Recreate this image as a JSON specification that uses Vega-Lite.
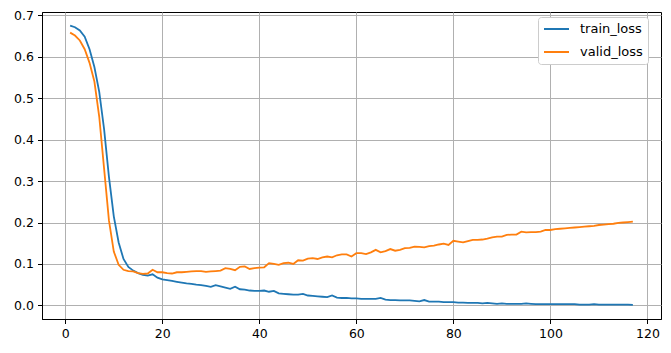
{
  "$schema": "https://vega.github.io/schema/vega-lite/v6.json",
  "autosize": "none",
  "width": 619,
  "height": 307,
  "padding": {"left": 42, "top": 12, "right": 10, "bottom": 34},
  "background": "white",
  "config": {
    "view": {"stroke": "black", "strokeWidth": 1},
    "font": "DejaVu Sans",
    "axis": {
      "labelFont": "DejaVu Sans",
      "labelFontSize": 12.5,
      "labelColor": "black",
      "domainColor": "black",
      "domainWidth": 1,
      "tickColor": "black",
      "tickSize": 4.5,
      "tickWidth": 1,
      "labelPadding": 4,
      "grid": true,
      "gridColor": "#b0b0b0",
      "gridWidth": 1,
      "title": null
    },
    "legend": {
      "labelFont": "DejaVu Sans",
      "labelFontSize": 13,
      "labelColor": "black"
    }
  },
  "data": {
    "values": [
      {"epoch":1,"train_loss":0.675,"valid_loss":0.658},
      {"epoch":2,"train_loss":0.671,"valid_loss":0.651},
      {"epoch":3,"train_loss":0.663,"valid_loss":0.639},
      {"epoch":4,"train_loss":0.648,"valid_loss":0.618},
      {"epoch":5,"train_loss":0.618,"valid_loss":0.585},
      {"epoch":6,"train_loss":0.575,"valid_loss":0.54},
      {"epoch":7,"train_loss":0.515,"valid_loss":0.455},
      {"epoch":8,"train_loss":0.425,"valid_loss":0.33},
      {"epoch":9,"train_loss":0.31,"valid_loss":0.205},
      {"epoch":10,"train_loss":0.215,"valid_loss":0.13},
      {"epoch":11,"train_loss":0.152,"valid_loss":0.098},
      {"epoch":12,"train_loss":0.112,"valid_loss":0.086},
      {"epoch":13,"train_loss":0.093,"valid_loss":0.083},
      {"epoch":14,"train_loss":0.084,"valid_loss":0.082},
      {"epoch":15,"train_loss":0.078,"valid_loss":0.078},
      {"epoch":16,"train_loss":0.074,"valid_loss":0.076},
      {"epoch":17,"train_loss":0.072,"valid_loss":0.077},
      {"epoch":18,"train_loss":0.075,"valid_loss":0.086},
      {"epoch":19,"train_loss":0.067,"valid_loss":0.080},
      {"epoch":20,"train_loss":0.063,"valid_loss":0.080},
      {"epoch":21,"train_loss":0.061,"valid_loss":0.078},
      {"epoch":22,"train_loss":0.059,"valid_loss":0.077},
      {"epoch":23,"train_loss":0.057,"valid_loss":0.080},
      {"epoch":24,"train_loss":0.055,"valid_loss":0.080},
      {"epoch":25,"train_loss":0.053,"valid_loss":0.081},
      {"epoch":26,"train_loss":0.052,"valid_loss":0.082},
      {"epoch":27,"train_loss":0.050,"valid_loss":0.083},
      {"epoch":28,"train_loss":0.049,"valid_loss":0.083},
      {"epoch":29,"train_loss":0.047,"valid_loss":0.081},
      {"epoch":30,"train_loss":0.045,"valid_loss":0.082},
      {"epoch":31,"train_loss":0.049,"valid_loss":0.083},
      {"epoch":32,"train_loss":0.046,"valid_loss":0.084},
      {"epoch":33,"train_loss":0.043,"valid_loss":0.090},
      {"epoch":34,"train_loss":0.040,"valid_loss":0.088},
      {"epoch":35,"train_loss":0.045,"valid_loss":0.085},
      {"epoch":36,"train_loss":0.039,"valid_loss":0.093},
      {"epoch":37,"train_loss":0.038,"valid_loss":0.094},
      {"epoch":38,"train_loss":0.036,"valid_loss":0.088},
      {"epoch":39,"train_loss":0.035,"valid_loss":0.090},
      {"epoch":40,"train_loss":0.035,"valid_loss":0.091},
      {"epoch":41,"train_loss":0.036,"valid_loss":0.092},
      {"epoch":42,"train_loss":0.033,"valid_loss":0.102},
      {"epoch":43,"train_loss":0.035,"valid_loss":0.100},
      {"epoch":44,"train_loss":0.029,"valid_loss":0.098},
      {"epoch":45,"train_loss":0.028,"valid_loss":0.102},
      {"epoch":46,"train_loss":0.027,"valid_loss":0.103},
      {"epoch":47,"train_loss":0.026,"valid_loss":0.100},
      {"epoch":48,"train_loss":0.026,"valid_loss":0.109},
      {"epoch":49,"train_loss":0.028,"valid_loss":0.108},
      {"epoch":50,"train_loss":0.024,"valid_loss":0.113},
      {"epoch":51,"train_loss":0.023,"valid_loss":0.114},
      {"epoch":52,"train_loss":0.022,"valid_loss":0.112},
      {"epoch":53,"train_loss":0.021,"valid_loss":0.116},
      {"epoch":54,"train_loss":0.020,"valid_loss":0.118},
      {"epoch":55,"train_loss":0.024,"valid_loss":0.116},
      {"epoch":56,"train_loss":0.019,"valid_loss":0.121},
      {"epoch":57,"train_loss":0.018,"valid_loss":0.123},
      {"epoch":58,"train_loss":0.018,"valid_loss":0.123},
      {"epoch":59,"train_loss":0.017,"valid_loss":0.118},
      {"epoch":60,"train_loss":0.017,"valid_loss":0.126},
      {"epoch":61,"train_loss":0.016,"valid_loss":0.126},
      {"epoch":62,"train_loss":0.016,"valid_loss":0.124},
      {"epoch":63,"train_loss":0.016,"valid_loss":0.128},
      {"epoch":64,"train_loss":0.016,"valid_loss":0.134},
      {"epoch":65,"train_loss":0.018,"valid_loss":0.128},
      {"epoch":66,"train_loss":0.014,"valid_loss":0.131},
      {"epoch":67,"train_loss":0.013,"valid_loss":0.136},
      {"epoch":68,"train_loss":0.013,"valid_loss":0.132},
      {"epoch":69,"train_loss":0.012,"valid_loss":0.134},
      {"epoch":70,"train_loss":0.012,"valid_loss":0.138},
      {"epoch":71,"train_loss":0.012,"valid_loss":0.139},
      {"epoch":72,"train_loss":0.011,"valid_loss":0.142},
      {"epoch":73,"train_loss":0.010,"valid_loss":0.141},
      {"epoch":74,"train_loss":0.013,"valid_loss":0.140},
      {"epoch":75,"train_loss":0.009,"valid_loss":0.143},
      {"epoch":76,"train_loss":0.009,"valid_loss":0.144},
      {"epoch":77,"train_loss":0.009,"valid_loss":0.147},
      {"epoch":78,"train_loss":0.008,"valid_loss":0.149},
      {"epoch":79,"train_loss":0.008,"valid_loss":0.146},
      {"epoch":80,"train_loss":0.008,"valid_loss":0.156},
      {"epoch":81,"train_loss":0.007,"valid_loss":0.154},
      {"epoch":82,"train_loss":0.007,"valid_loss":0.152},
      {"epoch":83,"train_loss":0.006,"valid_loss":0.155},
      {"epoch":84,"train_loss":0.006,"valid_loss":0.158},
      {"epoch":85,"train_loss":0.006,"valid_loss":0.158},
      {"epoch":86,"train_loss":0.005,"valid_loss":0.159},
      {"epoch":87,"train_loss":0.006,"valid_loss":0.161},
      {"epoch":88,"train_loss":0.005,"valid_loss":0.164},
      {"epoch":89,"train_loss":0.004,"valid_loss":0.166},
      {"epoch":90,"train_loss":0.005,"valid_loss":0.166},
      {"epoch":91,"train_loss":0.004,"valid_loss":0.170},
      {"epoch":92,"train_loss":0.004,"valid_loss":0.171},
      {"epoch":93,"train_loss":0.004,"valid_loss":0.171},
      {"epoch":94,"train_loss":0.004,"valid_loss":0.178},
      {"epoch":95,"train_loss":0.005,"valid_loss":0.176},
      {"epoch":96,"train_loss":0.004,"valid_loss":0.177},
      {"epoch":97,"train_loss":0.003,"valid_loss":0.177},
      {"epoch":98,"train_loss":0.003,"valid_loss":0.178},
      {"epoch":99,"train_loss":0.003,"valid_loss":0.182},
      {"epoch":100,"train_loss":0.003,"valid_loss":0.182},
      {"epoch":101,"train_loss":0.003,"valid_loss":0.184},
      {"epoch":102,"train_loss":0.003,"valid_loss":0.185},
      {"epoch":103,"train_loss":0.003,"valid_loss":0.186},
      {"epoch":104,"train_loss":0.003,"valid_loss":0.187},
      {"epoch":105,"train_loss":0.003,"valid_loss":0.188},
      {"epoch":106,"train_loss":0.002,"valid_loss":0.189},
      {"epoch":107,"train_loss":0.002,"valid_loss":0.190},
      {"epoch":108,"train_loss":0.002,"valid_loss":0.191},
      {"epoch":109,"train_loss":0.003,"valid_loss":0.192},
      {"epoch":110,"train_loss":0.002,"valid_loss":0.194},
      {"epoch":111,"train_loss":0.002,"valid_loss":0.195},
      {"epoch":112,"train_loss":0.002,"valid_loss":0.196},
      {"epoch":113,"train_loss":0.002,"valid_loss":0.197},
      {"epoch":114,"train_loss":0.002,"valid_loss":0.199},
      {"epoch":115,"train_loss":0.002,"valid_loss":0.200},
      {"epoch":116,"train_loss":0.002,"valid_loss":0.201},
      {"epoch":117,"train_loss":0.0015,"valid_loss":0.202}
    ]
  },
  "transform": [
    {"fold": ["train_loss", "valid_loss"], "as": ["series", "loss"]}
  ],
  "mark": {"type": "line", "strokeWidth": 1.8, "interpolate": "linear"},
  "encoding": {
    "x": {
      "field": "epoch",
      "type": "quantitative",
      "scale": {"domain": [-4.8, 122.8], "nice": false, "zero": false},
      "axis": {"values": [0, 20, 40, 60, 80, 100, 120], "format": "d"}
    },
    "y": {
      "field": "loss",
      "type": "quantitative",
      "scale": {"domain": [-0.0327, 0.7077], "nice": false, "zero": false},
      "axis": {"values": [0, 0.1, 0.2, 0.3, 0.4, 0.5, 0.6, 0.7], "format": ".1f"}
    },
    "color": {
      "field": "series",
      "type": "nominal",
      "scale": {"domain": ["train_loss", "valid_loss"], "range": ["#1f77b4", "#ff7f0e"]},
      "legend": {
        "title": null,
        "orient": "none",
        "legendX": 496,
        "legendY": 5,
        "symbolType": "stroke",
        "symbolSize": 625,
        "symbolStrokeWidth": 1.8,
        "clipHeight": 14,
        "fillColor": "white",
        "strokeColor": "#cccccc",
        "cornerRadius": 3,
        "padding": 5,
        "rowPadding": 9,
        "labelOffset": 10
      }
    }
  }
}
